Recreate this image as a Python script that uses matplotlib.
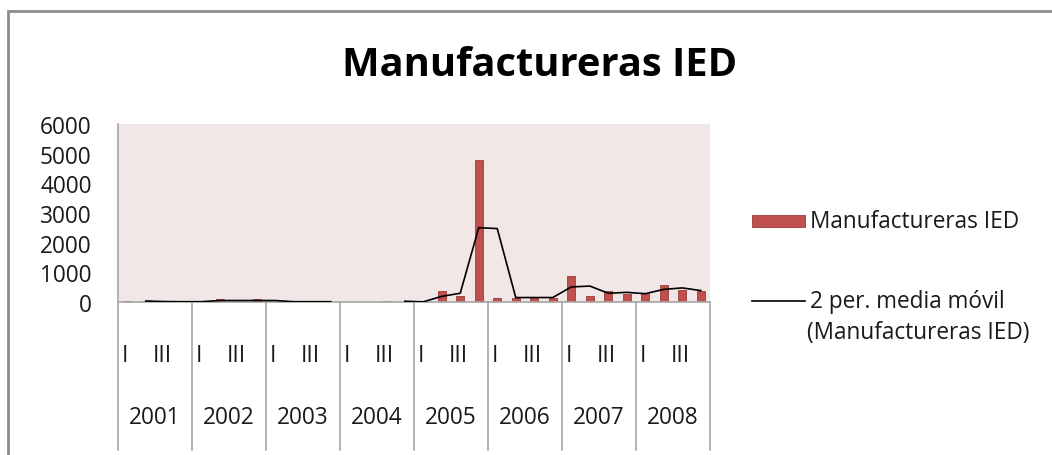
import numpy as np
import pandas as pd
import matplotlib
matplotlib.use("Agg")
import matplotlib.pyplot as plt
from matplotlib.patches import Rectangle
from matplotlib.lines import Line2D

plt.rcParams['font.family'] = ['Open Sans', 'DejaVu Sans']

# quarterly values, 2001 Q1 .. 2008 Q4 (NaN = no data)
years = ['2001', '2002', '2003', '2004', '2005', '2006', '2007', '2008']
quarter_labels = ['I', '', 'III', '']
ied = [50, 20, 10, 10,
       10, 90, 10, 90,
       10, 10, 10, 10,
       np.nan, np.nan, 40, 10,
       0, 380, 210, 4800,
       150, 150, 150, 150,
       865, 210, 380, 270,
       290, 560, 390, 380]

series = pd.Series(ied, dtype=float)
media_movil = series.rolling(2).mean()   # 2 period moving average
x = np.arange(len(series))

W, H = 1052, 456
fs = 16.3
fig = plt.figure(figsize=(W / 100, H / 100), dpi=100)
ax = fig.add_axes([118 / W, 1 - 303 / H, (710 - 118) / W, (303 - 125) / H])
ax.set_facecolor('#F2E7E7')

txt = '#1a1a1a'
grid_c = '#A6A6A6'

ax.bar(x, series.fillna(0), width=0.45, color='#C0504D', edgecolor='#9A3B39', linewidth=0.6, zorder=2)
ax.plot(x, media_movil, color='black', linewidth=1.2, zorder=3)

ax.set_xlim(-0.5, len(series) - 0.5)
ax.set_ylim(0, 6000)
ax.set_yticks(range(0, 6001, 1000))
ax.tick_params(axis='y', length=0, pad=19, labelsize=fs, labelcolor=txt)
ax.set_xticks([])
for s in ['top', 'right']:
    ax.spines[s].set_visible(False)
ax.spines['left'].set_color(grid_c)
ax.spines['bottom'].set_color(grid_c)
ax.spines['left'].set_linewidth(1.2)
ax.spines['bottom'].set_linewidth(1.2)

# category table below the axis
trans = ax.get_xaxis_transform()
for i in range(len(years) + 1):
    bx = i * 4 - 0.5
    ax.plot([bx, bx], [0, -0.83], transform=trans, color=grid_c, linewidth=1.2, clip_on=False)
for i, yr in enumerate(years):
    ax.text(i * 4 + 1.5, -0.645, yr, transform=trans, ha='center', va='center',
            fontsize=fs, color=txt)
    for q, ql in enumerate(quarter_labels):
        if ql:
            ax.text(i * 4 + q - 0.1, -0.3, ql, transform=trans, ha='center', va='center',
                    fontsize=fs, color=txt)

fig.text(540 / W, 1 - 65 / H, 'Manufactureras IED', ha='center', va='center',
         fontsize=28.7, fontweight='bold', color='black')

# legend
fig.add_artist(Rectangle((752 / W, 1 - 228 / H), 53 / W, 12 / H, transform=fig.transFigure,
                         facecolor='#C0504D', edgecolor='#9A3B39', linewidth=0.6))
fig.text(810 / W, 1 - 222 / H, 'Manufactureras IED', ha='left', va='center', fontsize=fs, color=txt)
fig.add_artist(Line2D([752 / W, 805 / W], [1 - 302 / H, 1 - 302 / H], transform=fig.transFigure,
                      color='black', linewidth=1.2))
fig.text(810 / W, 1 - 302 / H, '2 per. media móvil', ha='left', va='center', fontsize=fs, color=txt)
fig.text(807 / W, 1 - 333 / H, '(Manufactureras IED)', ha='left', va='center', fontsize=fs, color=txt)

# chart border
fig.add_artist(Rectangle((8 / W, -0.1), 1.2, 1 - 12 / H + 0.1, transform=fig.transFigure,
                         facecolor='none', edgecolor='#8C8C8C', linewidth=2))

fig.savefig('out.png', dpi=100)
